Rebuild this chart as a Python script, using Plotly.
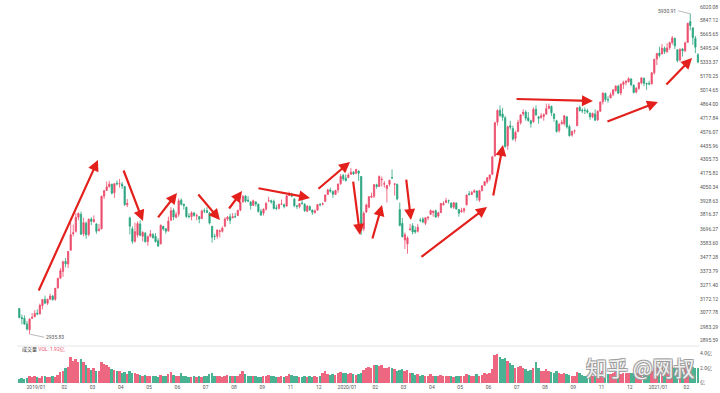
import math
import plotly.graph_objects as go

# ---- data: CSI300-like index, 2-trading-day candles, Dec 2018 .. Feb 2021 ----
opens = [3106,3046,3040,3003,2965,3040,3050,3075,3070,3125,3170,3143,3170,3192,3170,
         3250,3320,3370,3445,3425,3530,3660,3680,3795,3820,3660,3745,3655,3780,3760,3740,3685,3700,
         3975,4025,4060,4080,4005,4090,4085,4080,4060,3900,
         3790,3700,3600,3650,3740,3640,3665,3597,3640,3655,
         3640,3605,3580,3720,3700,3685,3770,3855,3795,3820,
         3940,3905,3880,3805,3800,3830,3805,3800,3785,3850,3850,
         3830,3720,3640,3640,3680,3680,3720,3780,3800,3790,3800,
         3810,3855,3925,3975,3940,3925,3895,3925,3905,3845,
         3830,3865,3935,3935,3930,3875,3870,3905,3900,
         3890,3980,3990,3950,3890,3885,3915,3905,3845,3885,3855,
         3835,3855,3905,3905,3930,3990,4030,4015,3990,4030,4085,
         4160,4135,4140,4170,4190,4180,4200,4150,
         3700,3840,3880,3965,3975,4075,4060,4120,4080,4040,
         4080,4140,4080,4080,3860,3745,3610,3580,3690,3725,3690,
         3680,3770,3780,3745,3790,3820,3835,3850,3805,3835,
         3900,3920,3935,3915,3880,3915,3860,3840,3850,
         3900,3995,3990,4010,4020,3940,4025,4070,4100,4130,
         4170,4340,4675,4800,4760,4720,4440,4640,4610,4510,4580,4670,
         4760,4780,4720,4690,4680,4810,4730,4725,4735,4760,
         4820,4840,4760,4690,4590,4660,4660,4730,4630,4545,4585,
         4640,4830,4800,4800,4795,4770,4730,4760,
         4700,4790,4890,4980,4915,4930,4970,5010,5060,4985,5080,
         5100,5110,5140,5070,4995,5035,5095,5150,5090,5090,5085,
         5210,5370,5440,5430,5500,5460,5505,5570,5620,5480,
         5360,5490,5470,5570,5830,5750,5620,5420]
highs = [3110,3065,3060,3022,3040,3075,3095,3100,3140,3172,3195,3175,3210,3200,3250,
         3325,3395,3450,3470,3525,3752,3735,3830,3835,3842,3790,3760,3785,3795,3810,3745,3740,3980,
         4030,4105,4110,4085,4090,4115,4127,4100,4065,3950,
         3800,3720,3750,3760,3770,3680,3675,3645,3690,3665,
         3665,3625,3735,3725,3705,3800,3880,3870,3840,3955,
         3955,3910,3885,3830,3845,3840,3825,3805,3860,3870,3880,
         3840,3725,3660,3695,3695,3720,3795,3805,3825,3830,3830,
         3860,3930,3985,3985,3975,3930,3945,3930,3910,3865,
         3870,3925,3970,3945,3945,3900,3910,3945,3910,
         3985,4015,4005,3955,3900,3915,3955,3915,3895,3895,3860,
         3860,3905,3915,3920,3990,4040,4050,4025,4030,4085,4172,
         4175,4170,4180,4227,4200,4220,4205,4155,
         3845,3910,3975,4005,4080,4085,4160,4150,4110,4075,
         4120,4215,4090,4085,3920,3790,3670,3640,3740,3745,3720,
         3740,3790,3795,3795,3800,3860,3850,3860,3840,3915,
         3930,3960,3945,3920,3925,3920,3865,3875,3875,
         3990,4020,4020,4035,4025,4030,4070,4110,4145,4170,
         4340,4680,4810,4850,4825,4740,4640,4690,4640,4590,4700,4760,
         4810,4800,4780,4700,4830,4850,4740,4770,4765,4870,
         4870,4850,4770,4700,4670,4700,4750,4740,4650,4590,4600,
         4830,4850,4820,4830,4815,4775,4775,4810,
         4800,4890,4995,4990,4950,4990,5025,5070,5075,5090,5120,
         5130,5160,5150,5080,5050,5105,5160,5155,5100,5120,5215,
         5370,5440,5520,5550,5520,5560,5580,5650,5630,5490,
         5500,5500,5580,5815,5931,5760,5650,5440]
lows = [3040,3000,2998,2960,2936,3035,3050,3060,3065,3100,3140,3130,3165,3160,3160,
        3245,3318,3330,3400,3395,3630,3640,3670,3770,3650,3640,3620,3640,3730,3750,3660,3680,3695,
        3950,4020,4050,3990,3960,4070,4050,4040,3890,3880,
        3655,3580,3590,3630,3640,3600,3590,3565,3630,3620,
        3590,3555,3575,3685,3660,3675,3765,3770,3785,3800,
        3895,3860,3790,3785,3770,3800,3770,3745,3780,3830,3830,
        3735,3590,3610,3620,3630,3670,3715,3765,3740,3790,3790,
        3805,3845,3920,3920,3925,3860,3890,3885,3835,3805,
        3810,3850,3925,3910,3860,3855,3860,3900,3870,
        3885,3975,3965,3880,3865,3870,3905,3840,3840,3850,3815,
        3825,3850,3885,3895,3925,3985,4005,3960,3985,4005,4075,
        4110,4105,4135,4165,4165,4170,4110,3650,
        3680,3830,3870,3960,3960,4040,4055,4060,4050,3920,
        4060,4125,3980,3940,3720,3630,3540,3503,3690,3655,3660,
        3670,3755,3745,3730,3770,3815,3800,3790,3790,3830,
        3895,3915,3910,3870,3865,3860,3800,3835,3830,
        3895,3980,3985,4005,3935,3925,4015,4065,4085,4110,
        4165,4335,4640,4730,4690,4420,4400,4600,4490,4480,4575,4650,
        4740,4690,4680,4620,4670,4740,4660,4710,4690,4750,
        4810,4740,4680,4570,4570,4650,4640,4610,4530,4530,4560,
        4635,4785,4770,4760,4765,4700,4715,4690,
        4690,4780,4860,4890,4880,4930,4950,5000,4975,4960,5030,
        5070,5100,5060,4980,4980,5020,5080,5060,5020,5070,5080,
        5190,5300,5390,5450,5430,5440,5480,5540,5490,5330,
        5340,5400,5450,5570,5720,5540,5440,5320]
closes = [3046,3039,3002,2969,3035,3047,3073,3070,3128,3168,3143,3169,3193,3168,3247,
          3318,3376,3442,3427,3520,3653,3669,3794,3827,3657,3750,3651,3778,3761,3776,3680,3697,3974,
          4022,4057,4081,4001,4085,4084,4085,4065,3902,3913,
          3721,3599,3677,3743,3648,3671,3597,3636,3660,3630,
          3598,3563,3729,3698,3681,3763,3850,3797,3818,3935,
          3904,3893,3801,3801,3832,3810,3808,3780,3848,3848,3835,
          3747,3633,3639,3690,3682,3706,3780,3796,3770,3799,3799,
          3851,3921,3972,3932,3932,3894,3935,3906,3844,3814,
          3863,3911,3935,3926,3869,3869,3904,3906,3886,
          3978,3985,3974,3892,3888,3910,3910,3850,3890,3857,3836,
          3849,3902,3902,3908,3985,4030,4018,3992,4025,4082,4152,
          4129,4113,4164,4190,4174,4215,4180,3688,
          3828,3899,3970,3973,4077,4061,4149,4123,4085,4069,
          4115,4139,4083,3950,3728,3637,3653,3626,3698,3674,3675,
          3713,3769,3756,3791,3797,3852,3847,3797,3833,3912,
          3911,3937,3935,3879,3918,3864,3829,3850,3867,
          3984,3990,4007,4022,3965,4023,4066,4103,4138,4164,
          4333,4670,4796,4745,4726,4432,4629,4624,4505,4572,4673,4750,
          4778,4717,4693,4661,4809,4752,4716,4741,4754,4816,
          4842,4773,4714,4580,4653,4674,4741,4627,4539,4581,4587,
          4825,4796,4793,4796,4779,4730,4766,4695,
          4788,4888,4982,4914,4910,4966,5019,5060,4983,5082,5103,
          5111,5144,5076,4990,5036,5097,5152,5092,5084,5084,5211,
          5368,5437,5412,5500,5458,5503,5567,5625,5528,5351,
          5485,5469,5564,5808,5779,5630,5512,5336]
volumes = [0.6,0.7,0.6,0.7,0.9,
           0.8,0.9,0.8,0.7,0.9,1.0,0.8,0.8,0.9,0.8,1.1,
           1.5,1.6,2.0,2.2,3.6,3.0,3.3,2.8,3.2,2.9,2.5,
           2.0,1.8,2.1,1.7,1.6,2.8,2.6,2.4,2.2,1.9,1.8,1.7,1.6,
           1.3,1.5,1.2,1.6,1.4,1.3,1.2,1.1,1.0,1.1,1.0,0.9,1.0,
           0.9,0.8,1.1,1.0,0.9,1.2,1.5,1.1,0.9,1.0,1.3,1.0,0.9,0.8,0.8,0.9,0.8,0.9,0.8,1.0,
           0.9,1.2,1.4,1.0,0.9,0.9,0.8,0.9,1.1,1.0,0.9,0.9,1.0,1.2,
           1.6,1.2,1.0,0.9,0.9,1.0,0.8,0.8,0.9,0.9,1.1,1.0,0.9,0.8,0.8,0.9,0.8,0.9,1.2,1.1,
           0.9,1.0,0.8,0.8,0.9,0.8,0.9,0.8,0.9,0.8,1.0,1.3,1.7,1.2,1.1,
           1.2,1.1,1.3,1.5,1.4,1.3,1.2,1.4,1.2,1.1,1.2,1.3,1.8,
           2.0,2.2,2.1,2.4,2.5,2.3,2.4,2.1,2.0,2.2,
           2.0,1.9,1.7,1.8,1.9,1.7,1.8,1.4,1.3,1.1,1.2,1.0,1.1,0.9,1.0,1.2,1.0,0.9,1.0,
           1.1,1.0,0.9,1.0,0.9,0.8,0.9,1.0,0.9,0.9,1.2,1.1,1.0,1.0,1.2,1.0,1.1,1.3,1.2,1.3,1.9,
           3.8,4.0,3.5,3.2,3.4,3.0,2.7,2.4,
           2.1,2.2,2.3,2.0,1.9,1.7,1.8,2.0,2.8,2.0,1.7,1.6,1.9,
           1.7,1.5,1.4,1.6,1.3,1.2,1.4,1.2,1.1,1.0,1.0,1.5,1.4,
           1.1,1.0,0.9,0.9,0.9,1.0,
           1.1,1.3,1.6,1.4,1.2,1.2,1.3,1.5,1.3,1.2,1.4,1.3,1.4,
           1.3,1.4,1.2,1.3,1.4,1.3,1.3,1.2,1.6,2.0,2.1,2.2,2.0,1.8,
           1.9,1.8,2.3,2.0,2.1,1.9,1.8,2.0,2.4,2.5,2.2,2.1,2.0]

price_ticks = [2895.59, 2983.29, 3077.78, 3172.12, 3271.40, 3373.79, 3477.28, 3583.60,
               3696.27, 3816.37, 3928.63, 4050.34, 4175.82, 4305.73, 4435.96, 4576.07,
               4717.84, 4864.00, 5014.65, 5170.25, 5333.37, 5495.24, 5665.65, 5847.12, 6020.08]
month_labels = ["2019/01", "02", "03", "04", "05", "06", "07", "08", "09", "11", "12",
                "2020/01", "02", "03", "04", "05", "06", "07", "08", "09", "11", "12",
                "2021/01", "02"]
vol_ticks = [0.15, 2, 4]
vol_tick_text = ["亿", "2.0亿", "4.0亿"]
low_label, high_label = "2935.83", "5930.91"

# arrows: (tail day, tail price, head day, head price)
arrows = [(15.6, 3221, 62.2, 4303), (81.7, 4219, 97.2, 3764), (108.1, 3781, 123.7, 4003),
          (139.3, 4003, 157.1, 3772), (163.4, 3856, 174.3, 4020), (185.9, 4047, 227.2, 3959),
          (232.6, 4029, 258.3, 4285), (260.6, 4118, 266.1, 3651), (275.4, 3610, 283.2, 3899),
          (301.9, 4136, 305.7, 3772), (312.7, 3471, 364.9, 3882), (369.5, 3968, 377.3, 4447),
          (386.7, 4920, 447.3, 4898), (457.4, 4677, 497.9, 4887), (503.3, 5062, 524.4, 5383)]

n = len(closes)
xs = [2 * k + 1 for k in range(n)]          # each candle spans two trading days
tick_pos = [14 + 22 * i for i in range(len(month_labels))]

UP, DOWN = "#ec4d6c", "#2aa57f"
vol_colors = [UP if c >= o else DOWN for o, c in zip(opens, closes)]

fig = go.Figure()
fig.add_trace(go.Candlestick(
    x=xs, open=opens, high=highs, low=lows, close=closes,
    increasing=dict(line=dict(color=UP, width=0.8), fillcolor=UP),
    decreasing=dict(line=dict(color=DOWN, width=0.8), fillcolor=DOWN),
    whiskerwidth=0, xaxis="x", yaxis="y", hoverinfo="skip"))
fig.add_trace(go.Bar(x=xs, y=volumes, marker=dict(color=vol_colors, line=dict(width=0)),
                     width=1.5, opacity=0.85, xaxis="x", yaxis="y2", hoverinfo="skip"))

lg = math.log10
ann = []
for tx, tp, hx, hp in arrows:
    ann.append(dict(x=hx, y=lg(hp), ax=tx, ay=lg(tp), xref="x", yref="y", axref="x", ayref="y",
                    text="", showarrow=True, arrowhead=2, arrowsize=1.0, arrowwidth=2.2,
                    arrowcolor="#e3201b", standoff=0, startstandoff=0))
ann.append(dict(x=9.5, y=lg(2935.83), xref="x", yref="y", text=low_label, showarrow=True,
                arrowhead=0, arrowwidth=0.6, arrowcolor="#888", ax=14, ay=3,
                xanchor="left", font=dict(size=5, color="#555")))
ann.append(dict(x=523, y=lg(5931), xref="x", yref="y", text=high_label, showarrow=True,
                arrowhead=0, arrowwidth=0.6, arrowcolor="#888", ax=-12, ay=-3,
                xanchor="right", font=dict(size=5, color="#555")))
fig.update_layout(annotations=ann)

# panel text (paper coordinates, paper height = 383 px)
H = 383.0
fig.add_annotation(x=0.005, y=1 - 349 / H, xref="paper", yref="paper", xanchor="left", yanchor="middle",
                   text="成交量 <span style='color:#ec4d6c'>VOL: 1.92亿</span>",
                   showarrow=False, font=dict(size=5, color="#333"))
fig.add_annotation(x=0.997, y=1 - 367 / H, xref="paper", yref="paper", xanchor="right", yanchor="middle",
                   text="知乎 @网叔", showarrow=False,
                   font=dict(size=21, color="rgba(255,255,255,0.85)", family="Noto Sans CJK SC",
                             shadow="1px 1px 0 #9a9a9a, -1px -1px 0 #9a9a9a, 1px -1px 0 #9a9a9a, -1px 1px 0 #9a9a9a"))

fig.update_layout(
    width=720, height=393,
    margin=dict(l=17, r=21, t=0, b=10),
    paper_bgcolor="white", plot_bgcolor="white",
    showlegend=False, bargap=0,
    font=dict(family="Roboto, Noto Sans CJK SC", size=5, color="#555"),
    xaxis=dict(range=[-0.78, 529.8], showgrid=False, zeroline=False, showline=False,
               tickmode="array", tickvals=tick_pos, ticktext=month_labels,
               ticks="", tickfont=dict(size=5, color="#555"), rangeslider=dict(visible=False),
               anchor="y2"),
    yaxis=dict(type="log", domain=[38 / H, 1.0], range=[3.45748, 3.78626], side="right",
               tickmode="array", tickvals=price_ticks, ticktext=[f"{v:.2f}" for v in price_ticks],
               showgrid=False, zeroline=False, showline=False, ticks="",
               tickfont=dict(size=5, color="#555"), fixedrange=True),
    yaxis2=dict(domain=[0, 35 / H], range=[0, 35 / 7.35], side="right",
                tickmode="array", tickvals=vol_ticks, ticktext=vol_tick_text,
                showgrid=False, zeroline=False, showline=False, ticks="",
                tickfont=dict(size=5, color="#555")),
)
fig.add_shape(type="line", xref="paper", yref="paper", x0=0, x1=1, y0=1 - 346 / H, y1=1 - 346 / H,
              line=dict(color="#e6e6e6", width=1))
fig.write_html("out.html", config={"displayModeBar": False},
               post_script="document.body.style.margin='0';document.body.style.overflow='hidden';")
